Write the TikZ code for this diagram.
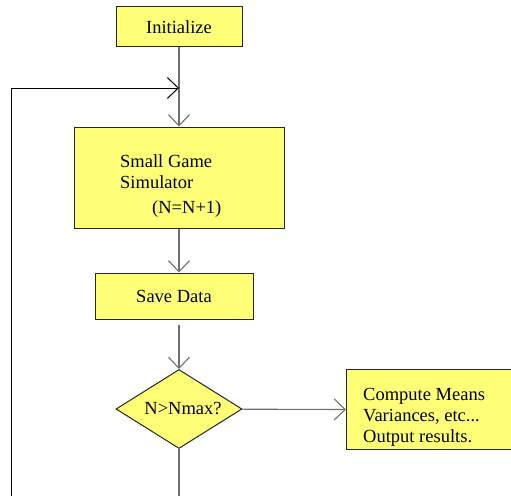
\documentclass[tikz,border=0pt]{standalone}
\usepackage{fontspec}
\setmainfont{Liberation Serif}
\usetikzlibrary{positioning}
\usetikzlibrary{arrows.meta}
\usetikzlibrary{shapes.geometric}
\definecolor{boxyellow}{RGB}{255, 255, 119}
\definecolor{flowgray}{RGB}{110, 110, 110}
\tikzset{procbox/.style = {draw=black!85, fill=boxyellow, line width=1pt, inner sep=0, font=\fontsize{18.5}{21}\selectfont}}
\tikzset{decide/.style = {procbox, diamond, aspect=1.6, minimum width=126pt, minimum height=79pt}}
\tikzset{flow/.style = {draw=flowgray, line width=1.1pt, ->}}
\tikzset{every picture/.style={
    >={Straight Barb[length=11pt, width=21pt]},
}}

\begin{document}
\begin{tikzpicture}[x=1pt, y=-1pt]
    \clip (0,0) rectangle (511,495);

    \node[procbox, minimum width=126pt, minimum height=40pt] (init) at (179,27) {Initialize};
    \node[procbox, minimum width=210pt, minimum height=101pt] (sim) at (179,177.5) {};
    % base of a multi-line node is its last line
    \node[font=\fontsize{18.5}{21}\selectfont, align=left, anchor=base west, inner sep=0] (simtext) at (120,213)
        {Small Game\\Simulator\\[4pt]\hspace{32pt}(N=N+1)};
    \node[procbox, minimum width=158pt, minimum height=46pt] (save) at (174,296) {Save Data};
    \node[decide] (dec) at (179,409) {\hspace{8pt}N>Nmax?};
    \node[procbox, anchor=north west, minimum width=190pt, minimum height=80pt] (cbox) at (346,369) {};
    \node[font=\fontsize{18.5}{21}\selectfont, align=left, anchor=base west, inner sep=0] (ctext) at (363,442)
        {Compute Means\\Variances, etc...\\Output results.};

    \coordinate (loopin) at (179,88);
    \coordinate (loopbot) at (179,505);
    \coordinate (loopleft) at (11,505);

    \draw[flow] (init) -- (sim);
    \draw[flow] (sim.south -| init) -- (save.north -| init);
    \draw[flow, shorten <=5pt] (save.south -| dec) -- (dec);
    \draw[flow] (dec) -- (cbox.west);
    \draw[flowgray, line width=1.1pt] (dec.south) -- (loopbot) -- (loopleft);
    \draw[->, line width=1pt] (loopleft) -- (loopleft |- loopin) -- (loopin);
\end{tikzpicture}
\end{document}
